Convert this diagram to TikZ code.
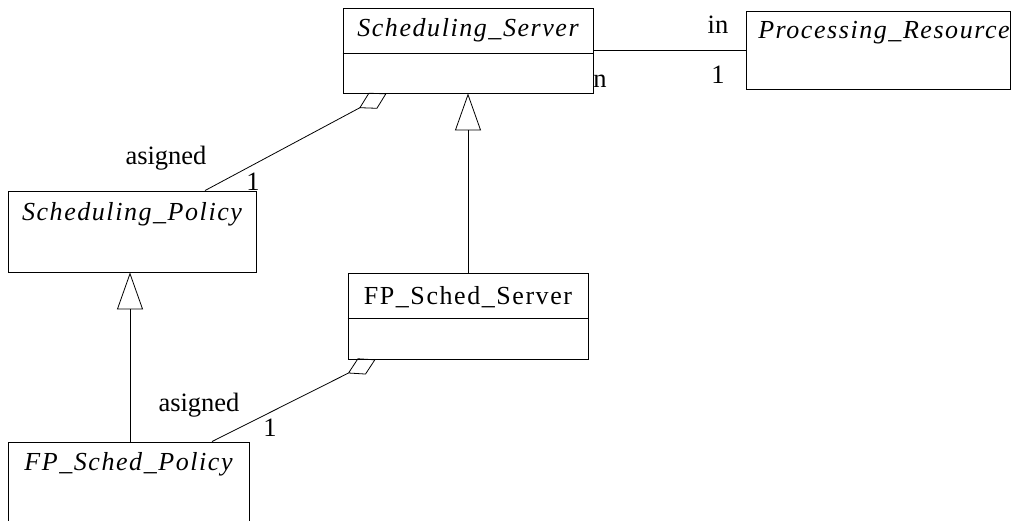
\documentclass[tikz,border=0pt]{standalone}
\usepackage{fontspec}
\setmainfont{Liberation Serif}
\newfontfamily\titlefont[LetterSpace=6]{Liberation Serif}
\usetikzlibrary{arrows.meta}

\begin{document}
\begin{tikzpicture}[x=1pt,y=-1pt,
  every node/.style={font=\fontsize{26.5}{30}\selectfont},
  classbox/.style={draw, line width=0.9pt, inner sep=0pt},
  ctitle/.style={font=\titlefont\fontsize{26}{30}\selectfont\itshape, inner sep=0pt},
  rtitle/.style={font=\titlefont\fontsize{26}{30}\selectfont, inner sep=0pt},
  mult/.style={inner sep=0pt},
  link/.style={line width=0.8pt},
  aggr/.style={link, -{Diamond[open, length=31pt, width=18pt, line width=0.8pt]}},
  gen/.style={link, -{Triangle[open, length=37pt, width=26pt, line width=0.8pt]}}
]
\useasboundingbox (0,0) rectangle (1017,520);

% classes
\node[classbox, minimum width=250pt, minimum height=85pt] (SS) at (468,50.5) {};
\node[ctitle] at ([yshift=-23pt]SS.north) {Scheduling\_Server};
\draw[line width=0.9pt] ([yshift=-46pt]SS.north west) -- ([yshift=-46pt]SS.north east);

\node[classbox, minimum width=264pt, minimum height=78pt] (PR) at (878,50) {};
\node[ctitle] at ([xshift=6pt,yshift=-22pt]PR.north) {Processing\_Resource};

\node[classbox, minimum width=248pt, minimum height=81pt] (SP) at (132,231.5) {};
\node[ctitle] at ([yshift=-24pt]SP.north) {Scheduling\_Policy};

\node[classbox, minimum width=240pt, minimum height=86pt] (FS) at (468,316) {};
\node[rtitle] at ([yshift=-25pt]FS.north) {FP\_Sched\_Server};
\draw[line width=0.9pt] ([yshift=-46pt]FS.north west) -- ([yshift=-46pt]FS.north east);

\node[classbox, minimum width=241pt, minimum height=82pt] (FP) at (128.5,483) {};
\node[ctitle] at ([yshift=-23pt]FP.north) {FP\_Sched\_Policy};

% association
\draw[link] (SS.east |- PR.west) -- (PR.west);
\node[mult] at (718,25) {in};
\node[mult] at (718,75) {1};
\node[mult] at (600,81) {n};

% aggregations
\draw[aggr] ([xshift=73pt]SP.north) -- ([xshift=44pt]SS.south west);
\node[mult] at (166,158) {asigned};
\node[mult] at (253,182) {1};

\draw[aggr] ([xshift=83.5pt]FP.north) -- ([xshift=28pt]FS.south west);
\node[mult] at (199,405) {asigned};
\node[mult] at (270,428) {1};

% generalizations
\draw[gen] (FS.north) -- (FS.north |- SS.south);
\draw[gen] ([xshift=1.5pt]FP.north) -- ([xshift=1.5pt]FP.north |- SP.south);
\end{tikzpicture}
\end{document}
